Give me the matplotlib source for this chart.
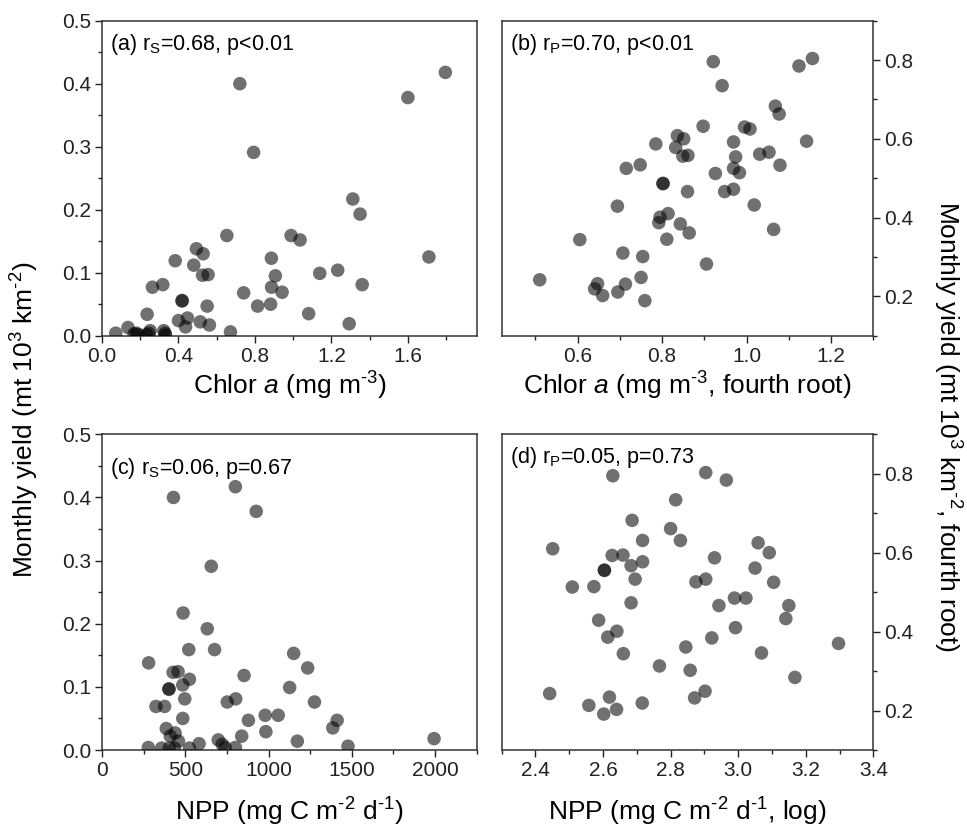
import matplotlib
matplotlib.use("Agg")
import matplotlib.pyplot as plt
from matplotlib.ticker import MultipleLocator

plt.rcParams["font.family"] = ["Liberation Sans", "DejaVu Sans"]
plt.rcParams["mathtext.fontset"] = "custom"
plt.rcParams["mathtext.rm"] = "Liberation Sans"
plt.rcParams["mathtext.it"] = "Liberation Sans:italic"
plt.rcParams["axes.unicode_minus"] = False

# (a) chlor a vs monthly yield
chl_x = [1.796, 1.60, 0.721, 0.793, 1.312, 1.350, 0.653, 0.989, 1.036, 1.710,
         0.886, 0.494, 0.529, 0.383, 0.480, 0.526, 0.555, 0.907, 1.139, 1.233,
         1.361, 0.264, 0.318, 0.887, 0.942, 0.741, 0.419, 0.419, 0.814, 0.882,
         0.550, 0.236, 1.081, 1.293, 0.447, 0.400, 0.514, 0.562, 0.136, 0.437,
         0.072, 0.252, 0.323, 0.180, 0.246, 0.330, 0.672, 0.168, 0.189, 0.233,
         0.332]
chl_y = [0.418, 0.378, 0.400, 0.291, 0.217, 0.193, 0.159, 0.159, 0.152, 0.125,
         0.123, 0.138, 0.130, 0.119, 0.112, 0.096, 0.097, 0.095, 0.099, 0.104,
         0.081, 0.077, 0.081, 0.077, 0.069, 0.068, 0.055, 0.056, 0.047, 0.050,
         0.047, 0.034, 0.035, 0.019, 0.028, 0.024, 0.022, 0.017, 0.013, 0.014,
         0.004, 0.008, 0.008, 0.004, 0.004, 0.004, 0.006, 0.003, 0.002, 0.002,
         0.001]

# (b) fourth root transformed
chl4_x = [1.156, 1.124, 0.921, 0.942, 1.068, 1.077, 0.897, 0.995, 1.008, 1.142,
          0.969, 0.836, 0.851, 0.785, 0.832, 0.849, 0.861, 0.974, 1.031, 1.053,
          1.079, 0.715, 0.748, 0.926, 0.969, 0.983, 0.802, 0.802, 0.860, 0.948,
          0.969, 1.018, 0.694, 0.795, 0.814, 0.792, 0.843, 0.864, 1.064, 0.605,
          0.811, 0.707, 0.754, 0.905, 0.510, 0.647, 0.640, 0.713, 0.750, 0.659,
          0.695, 0.759]
chl4_y = [0.804, 0.785, 0.796, 0.735, 0.683, 0.663, 0.632, 0.630, 0.625, 0.594,
          0.592, 0.608, 0.600, 0.587, 0.578, 0.556, 0.558, 0.554, 0.561, 0.566,
          0.533, 0.525, 0.534, 0.512, 0.525, 0.514, 0.486, 0.487, 0.466, 0.466,
          0.472, 0.432, 0.429, 0.401, 0.410, 0.387, 0.384, 0.361, 0.370, 0.344,
          0.345, 0.310, 0.301, 0.282, 0.242, 0.232, 0.219, 0.231, 0.248, 0.202,
          0.211, 0.189]

# (c) NPP vs monthly yield
npp_x = [801, 429, 926, 656, 487, 632, 521, 676, 280, 1151,
         1235, 427, 457, 853, 525, 485, 402, 402, 1127, 497,
         752, 803, 1276, 324, 376, 485, 879, 980, 1058, 1412,
         1386, 386, 439, 410, 984, 839, 459, 698, 583, 1173,
         1994, 1477, 278, 358, 404, 435, 525, 722, 740, 801]
npp_y = [0.417, 0.400, 0.378, 0.291, 0.217, 0.192, 0.159, 0.159, 0.138, 0.153,
         0.130, 0.123, 0.124, 0.118, 0.112, 0.103, 0.096, 0.097, 0.099, 0.081,
         0.076, 0.081, 0.076, 0.069, 0.069, 0.050, 0.047, 0.055, 0.055, 0.047,
         0.035, 0.034, 0.027, 0.022, 0.029, 0.022, 0.014, 0.016, 0.010, 0.014,
         0.018, 0.006, 0.004, 0.003, 0.003, 0.003, 0.003, 0.009, 0.004, 0.004]

# (d) log NPP vs fourth root yield
lognpp_x = [2.904, 2.965, 2.629, 2.815, 2.686, 2.800, 2.717, 2.829, 3.059, 2.451,
            3.092, 2.627, 2.659, 2.930, 2.717, 2.683, 2.604, 2.604, 3.050, 2.695,
            2.875, 2.904, 3.105, 2.509, 2.573, 2.989, 3.023, 2.943, 3.150, 2.683,
            3.141, 2.587, 2.992, 2.641, 2.614, 2.922, 3.297, 2.845, 3.069, 2.660,
            2.767, 2.858, 3.168, 2.442, 2.902, 2.619, 2.871, 2.716, 2.558, 2.640,
            2.602]
lognpp_y = [0.803, 0.784, 0.795, 0.734, 0.682, 0.661, 0.631, 0.631, 0.625, 0.610,
            0.600, 0.593, 0.594, 0.587, 0.577, 0.567, 0.555, 0.556, 0.561, 0.533,
            0.526, 0.533, 0.525, 0.513, 0.514, 0.485, 0.485, 0.466, 0.466, 0.473,
            0.433, 0.429, 0.410, 0.401, 0.386, 0.384, 0.370, 0.361, 0.346, 0.344,
            0.313, 0.302, 0.284, 0.243, 0.249, 0.234, 0.232, 0.219, 0.213, 0.203,
            0.191]

W, H = 967, 835
fig = plt.figure(figsize=(W / 100, H / 100), dpi=100)


def add_ax(left, top, right, bottom):
    return fig.add_axes([left / W, 1 - bottom / H, (right - left) / W, (bottom - top) / H])


ax_a = add_ax(102, 20.7, 476.7, 335.7)
ax_b = add_ax(501.7, 20.7, 873.3, 335.7)
ax_c = add_ax(102, 434.3, 476.7, 750)
ax_d = add_ax(501.7, 434.3, 873.3, 750)

mk = dict(s=95, color="black", alpha=0.56, edgecolors="none", zorder=3)
HY = "\u2010"  # short hyphen for the superscripts


def style(ax, right=False):
    for sp in ax.spines.values():
        sp.set_linewidth(1.1)
        sp.set_color("#333333")
    ax.tick_params(which="major", direction="out", length=5, width=1.0, labelsize=15,
                   colors="#222222", pad=3)
    ax.tick_params(which="minor", direction="out", length=3, width=1.0, colors="#222222")
    if right:
        ax.yaxis.tick_right()
        ax.yaxis.set_label_position("right")
    ax.tick_params(which="both", top=False, left=not right, right=right)


# panel (a)
ax_a.scatter(chl_x, chl_y, **mk)
ax_a.set_xlim(0, 1.96)
ax_a.set_ylim(0, 0.5)
ax_a.xaxis.set_major_locator(MultipleLocator(0.4))
ax_a.xaxis.set_minor_locator(MultipleLocator(0.2))
ax_a.yaxis.set_major_locator(MultipleLocator(0.1))
ax_a.yaxis.set_minor_locator(MultipleLocator(0.05))
ax_a.xaxis.set_major_formatter(lambda v, p: f"{v:.1f}")
ax_a.yaxis.set_major_formatter(lambda v, p: f"{v:.1f}")
style(ax_a)
ax_a.set_xlabel(r"Chlor $\mathit{a}$ (mg m$^{" + HY + "3}$)", fontsize=19, labelpad=3)
ax_a.text(0.022, 0.965, r"(a) r$_\mathrm{S}$=0.68, p<0.01", transform=ax_a.transAxes,
          fontsize=15.5, va="top", ha="left")

# panel (b)
ax_b.scatter(chl4_x, chl4_y, **mk)
ax_b.set_xlim(0.42, 1.30)
ax_b.set_ylim(0.1, 0.9)
ax_b.xaxis.set_major_locator(MultipleLocator(0.2))
ax_b.xaxis.set_minor_locator(MultipleLocator(0.1))
ax_b.yaxis.set_major_locator(MultipleLocator(0.2))
ax_b.yaxis.set_minor_locator(MultipleLocator(0.1))
ax_b.xaxis.set_major_formatter(lambda v, p: f"{v:.1f}")
ax_b.yaxis.set_major_formatter(lambda v, p: f"{v:.1f}")
style(ax_b, right=True)
ax_b.set_xlabel(r"Chlor $\mathit{a}$ (mg m$^{" + HY + "3}$, fourth root)", fontsize=19,
                labelpad=3)
ax_b.text(0.022, 0.965, r"(b) r$_\mathrm{P}$=0.70, p<0.01", transform=ax_b.transAxes,
          fontsize=15.5, va="top", ha="left")

# panel (c)
ax_c.scatter(npp_x, npp_y, **mk)
ax_c.set_xlim(0, 2250)
ax_c.set_ylim(0, 0.5)
ax_c.xaxis.set_major_locator(MultipleLocator(500))
ax_c.xaxis.set_minor_locator(MultipleLocator(250))
ax_c.yaxis.set_major_locator(MultipleLocator(0.1))
ax_c.yaxis.set_minor_locator(MultipleLocator(0.05))
ax_c.yaxis.set_major_formatter(lambda v, p: f"{v:.1f}")
style(ax_c)
ax_c.set_xlabel(r"NPP (mg C m$^{" + HY + "2}$ d$^{" + HY + "1}$)", fontsize=19, labelpad=11)
ax_c.text(0.022, 0.93, r"(c) r$_\mathrm{S}$=0.06, p=0.67", transform=ax_c.transAxes,
          fontsize=15.5, va="top", ha="left")

# panel (d)
ax_d.scatter(lognpp_x, lognpp_y, **mk)
ax_d.set_xlim(2.3, 3.4)
ax_d.set_ylim(0.1, 0.9)
ax_d.xaxis.set_major_locator(MultipleLocator(0.2))
ax_d.xaxis.set_minor_locator(MultipleLocator(0.1))
ax_d.yaxis.set_major_locator(MultipleLocator(0.2))
ax_d.yaxis.set_minor_locator(MultipleLocator(0.1))
ax_d.xaxis.set_major_formatter(lambda v, p: f"{v:.1f}")
ax_d.yaxis.set_major_formatter(lambda v, p: f"{v:.1f}")
style(ax_d, right=True)
ax_d.set_xlabel(r"NPP (mg C m$^{" + HY + "2}$ d$^{" + HY + "1}$, log)", fontsize=19,
                labelpad=11)
ax_d.text(0.022, 0.965, r"(d) r$_\mathrm{P}$=0.05, p=0.73", transform=ax_d.transAxes,
          fontsize=15.5, va="top", ha="left")

fig.text(0.026, 0.497, r"Monthly yield (mt 10$^{3}$ km$^{" + HY + "2}$)", rotation=90,
         fontsize=19, ha="center", va="center")
fig.text(0.979, 0.489, r"Monthly yield (mt 10$^{3}$ km$^{" + HY + "2}$, fourth root)",
         rotation=270, fontsize=19, ha="center", va="center")

fig.savefig("out.png", dpi=100)
